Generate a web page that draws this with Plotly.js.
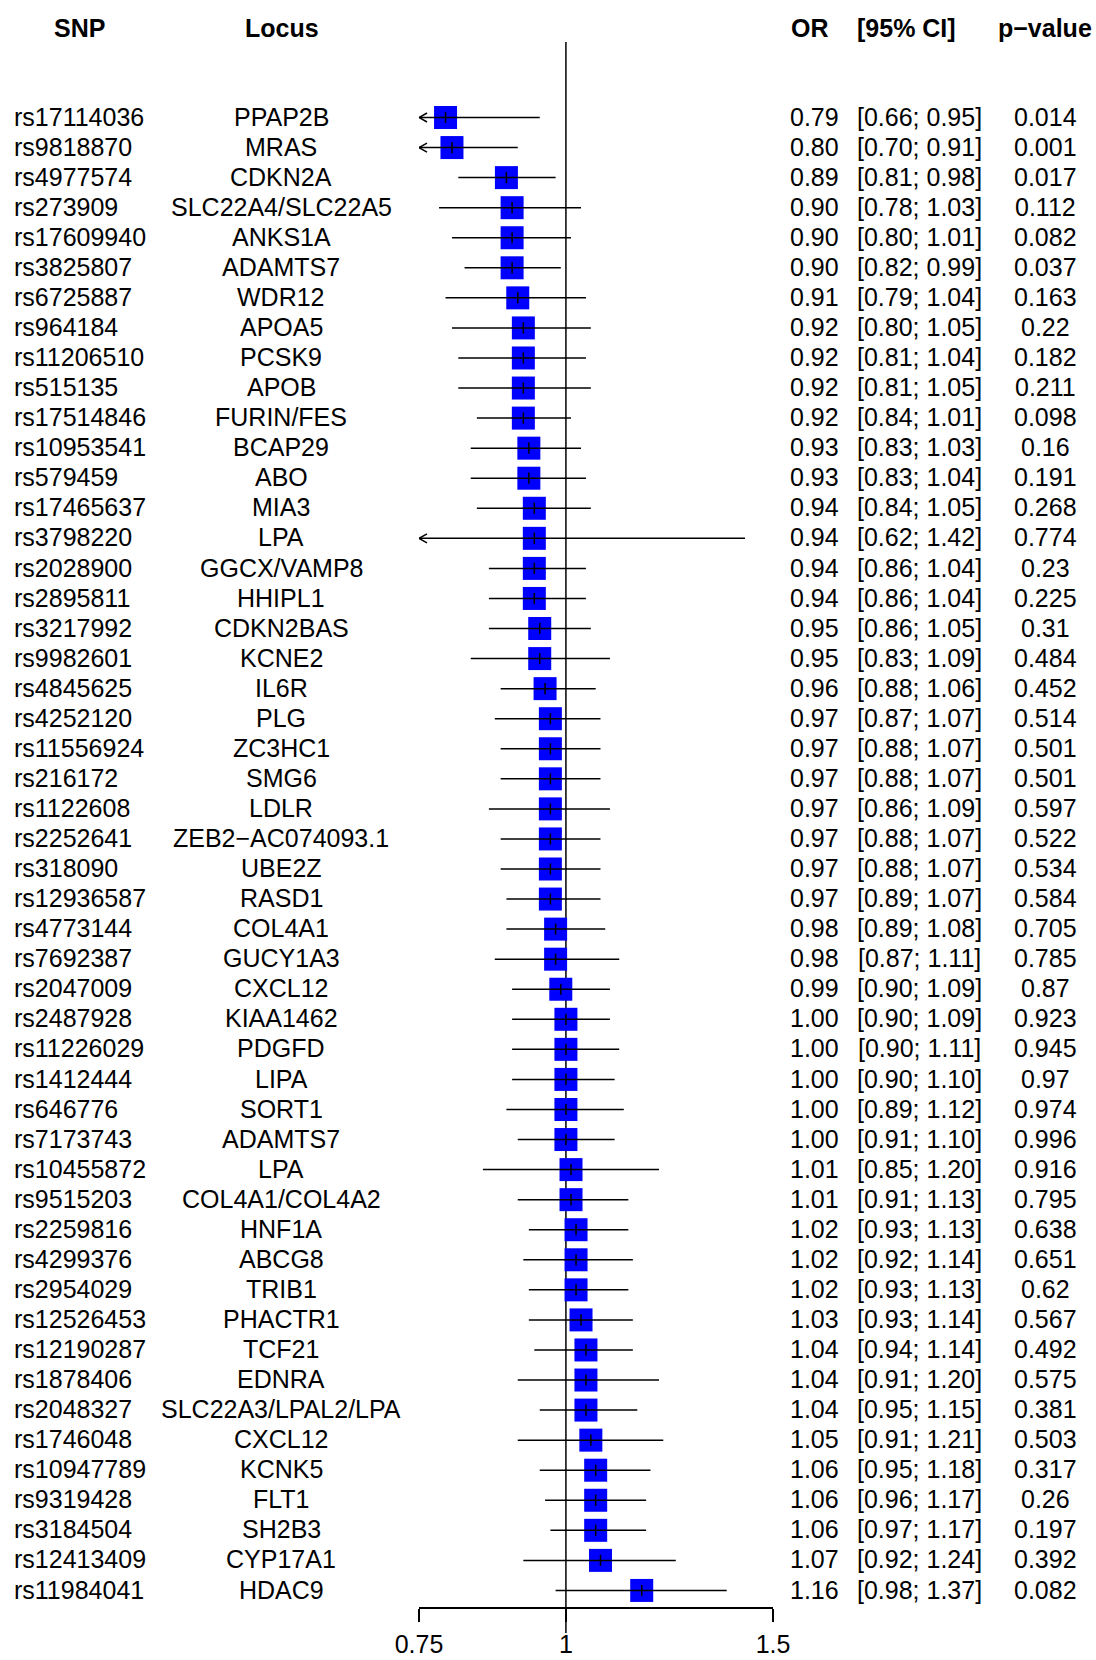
<!DOCTYPE html>
<html>
<head>
<meta charset="utf-8">
<script src="https://cdn.plot.ly/plotly-3.0.1.min.js"></script>
<style>html,body{margin:0;padding:0;background:#fff;}#chart{width:1096px;height:1660px;}</style>
</head>
<body>
<div id="chart"></div>
<script>
const snp = ["rs17114036","rs9818870","rs4977574","rs273909","rs17609940","rs3825807","rs6725887","rs964184","rs11206510","rs515135",
"rs17514846","rs10953541","rs579459","rs17465637","rs3798220","rs2028900","rs2895811","rs3217992","rs9982601","rs4845625",
"rs4252120","rs11556924","rs216172","rs1122608","rs2252641","rs318090","rs12936587","rs4773144","rs7692387","rs2047009",
"rs2487928","rs11226029","rs1412444","rs646776","rs7173743","rs10455872","rs9515203","rs2259816","rs4299376","rs2954029",
"rs12526453","rs12190287","rs1878406","rs2048327","rs1746048","rs10947789","rs9319428","rs3184504","rs12413409","rs11984041"];
const locus = ["PPAP2B","MRAS","CDKN2A","SLC22A4/SLC22A5","ANKS1A","ADAMTS7","WDR12","APOA5","PCSK9","APOB",
"FURIN/FES","BCAP29","ABO","MIA3","LPA","GGCX/VAMP8","HHIPL1","CDKN2BAS","KCNE2","IL6R",
"PLG","ZC3HC1","SMG6","LDLR","ZEB2\u2212AC074093.1","UBE2Z","RASD1","COL4A1","GUCY1A3","CXCL12",
"KIAA1462","PDGFD","LIPA","SORT1","ADAMTS7","LPA","COL4A1/COL4A2","HNF1A","ABCG8","TRIB1",
"PHACTR1","TCF21","EDNRA","SLC22A3/LPAL2/LPA","CXCL12","KCNK5","FLT1","SH2B3","CYP17A1","HDAC9"];
const oddsRatio = [0.79,0.80,0.89,0.90,0.90,0.90,0.91,0.92,0.92,0.92,
0.92,0.93,0.93,0.94,0.94,0.94,0.94,0.95,0.95,0.96,
0.97,0.97,0.97,0.97,0.97,0.97,0.97,0.98,0.98,0.99,
1.00,1.00,1.00,1.00,1.00,1.01,1.01,1.02,1.02,1.02,
1.03,1.04,1.04,1.04,1.05,1.06,1.06,1.06,1.07,1.16];
const ciLower = [0.66,0.70,0.81,0.78,0.80,0.82,0.79,0.80,0.81,0.81,
0.84,0.83,0.83,0.84,0.62,0.86,0.86,0.86,0.83,0.88,
0.87,0.88,0.88,0.86,0.88,0.88,0.89,0.89,0.87,0.90,
0.90,0.90,0.90,0.89,0.91,0.85,0.91,0.93,0.92,0.93,
0.93,0.94,0.91,0.95,0.91,0.95,0.96,0.97,0.92,0.98];
const ciUpper = [0.95,0.91,0.98,1.03,1.01,0.99,1.04,1.05,1.04,1.05,
1.01,1.03,1.04,1.05,1.42,1.04,1.04,1.05,1.09,1.06,
1.07,1.07,1.07,1.09,1.07,1.07,1.07,1.08,1.11,1.09,
1.09,1.11,1.10,1.12,1.10,1.20,1.13,1.13,1.14,1.13,
1.14,1.14,1.20,1.15,1.21,1.18,1.17,1.17,1.24,1.37];
const pValue = ["0.014","0.001","0.017","0.112","0.082","0.037","0.163","0.22","0.182","0.211",
"0.098","0.16","0.191","0.268","0.774","0.23","0.225","0.31","0.484","0.452",
"0.514","0.501","0.501","0.597","0.522","0.534","0.584","0.705","0.785","0.87",
"0.923","0.945","0.97","0.974","0.996","0.916","0.795","0.638","0.651","0.62",
"0.567","0.492","0.575","0.381","0.503","0.317","0.26","0.197","0.392","0.082"];
const tickVals = [0.75, 1, 1.5];
const tickText = ["0.75", "1", "1.5"];
const headers = ["SNP", "Locus", "OR", "[95% CI]", "p\u2212value"];

// ---- layout geometry (pixels) ----
const W = 1096, H = 1660;
const plotL = 419, plotR = 773, plotT = 42, plotB = 1607;
const rowTop = 117.5, rowStep = 30.06;
const xMin = tickVals[0], xMax = tickVals[tickVals.length - 1];
const plotW = plotR - plotL, plotH = plotB - plotT;
const yTop = (plotT - rowTop) / rowStep;
const yBot = yTop + plotH / rowStep;
const px2paperX = p => (p - plotL) / plotW;
const px2paperY = p => (plotB - p) / plotH;
const pxPerLn = plotW / Math.log(xMax / xMin);

const FONT = "Liberation Sans, Arial, Helvetica, sans-serif";
const FS = 25;
const rows = snp.map((_, i) => i);

// CI lines (clipped at axis min) and arrows
const lineX = [], lineY = [], arrX = [], arrY = [];
rows.forEach(i => {
  const lo = Math.max(ciLower[i], xMin);
  const hi = Math.min(ciUpper[i], xMax);
  lineX.push(lo, hi, null); lineY.push(i, i, null);
  if (ciLower[i] < xMin) {
    const ax = xMin * Math.exp(8 / pxPerLn);
    const dy = 4.5 / rowStep;
    arrX.push(ax, xMin, ax, null); arrY.push(i - dy, i, i + dy, null);
  }
});

const traces = [
  { type: "scatter", mode: "markers", x: oddsRatio, y: rows, hoverinfo: "skip",
    marker: { symbol: "square", size: 23, color: "#0000ff", line: { width: 0 } }, cliponaxis: false },
  { type: "scatter", mode: "lines", x: lineX, y: lineY, hoverinfo: "skip",
    line: { color: "#000", width: 1.5 } },
  { type: "scatter", mode: "lines", x: arrX, y: arrY, hoverinfo: "skip",
    line: { color: "#000", width: 1.5 } },
  { type: "scatter", mode: "markers", x: oddsRatio, y: rows, hoverinfo: "skip",
    marker: { symbol: "line-ns", size: 8, line: { color: "#000", width: 1.5 } } }
];

const annotations = [];
const colSNP = px2paperX(12), colLocus = px2paperX(281), colOR = px2paperX(814),
      colCI = px2paperX(919), colP = px2paperX(1045);
const fmt = v => v.toFixed(2);
rows.forEach(i => {
  const base = { xref: "paper", yref: "y", y: i - 0.03, yanchor: "middle", showarrow: false,
                 font: { family: FONT, size: FS, color: "#000" } };
  annotations.push(Object.assign({}, base, { x: colSNP, xanchor: "left", text: snp[i] }));
  annotations.push(Object.assign({}, base, { x: colLocus, xanchor: "center", text: locus[i] }));
  annotations.push(Object.assign({}, base, { x: colOR, xanchor: "center", text: fmt(oddsRatio[i]) }));
  annotations.push(Object.assign({}, base, { x: colCI, xanchor: "center",
    text: "[" + fmt(ciLower[i]) + "; " + fmt(ciUpper[i]) + "]" }));
  annotations.push(Object.assign({}, base, { x: colP, xanchor: "center", text: pValue[i] }));
});
const headerX = [px2paperX(79.5), px2paperX(282), px2paperX(810), px2paperX(906), px2paperX(1045)];
headers.forEach((h, k) => {
  annotations.push({ xref: "paper", yref: "paper", x: headerX[k], y: px2paperY(28),
    xanchor: "center", yanchor: "middle", showarrow: false, text: "<b>" + h + "</b>",
    font: { family: FONT, size: FS, color: "#000" } });
});

const layout = {
  width: W, height: H,
  margin: { l: plotL, r: W - plotR, t: plotT, b: H - plotB, autoexpand: false },
  paper_bgcolor: "#fff", plot_bgcolor: "#fff",
  showlegend: false,
  font: { family: FONT, size: FS, color: "#000" },
  xaxis: {
    type: "log", range: [Math.log10(xMin), Math.log10(xMax)],
    tickmode: "array", tickvals: tickVals, ticktext: tickText,
    ticks: "outside", ticklen: 13, tickwidth: 1.5, tickcolor: "#000",
    showline: true, linecolor: "#000", linewidth: 1.5,
    showgrid: false, zeroline: false, ticklabelstandoff: 1,
    tickfont: { family: FONT, size: FS, color: "#000" }, fixedrange: true
  },
  yaxis: {
    range: [yBot, yTop], showgrid: false, zeroline: false, showline: false,
    showticklabels: false, ticks: "", fixedrange: true
  },
  shapes: [
    { type: "line", xref: "x", yref: "paper", x0: 1, x1: 1, y0: 1, y1: px2paperY(1633),
      line: { color: "#000", width: 1.5 }, layer: "below" }
  ],
  annotations: annotations
};

Plotly.newPlot("chart", traces, layout, { displayModeBar: false, staticPlot: true });
</script>
</body>
</html>
